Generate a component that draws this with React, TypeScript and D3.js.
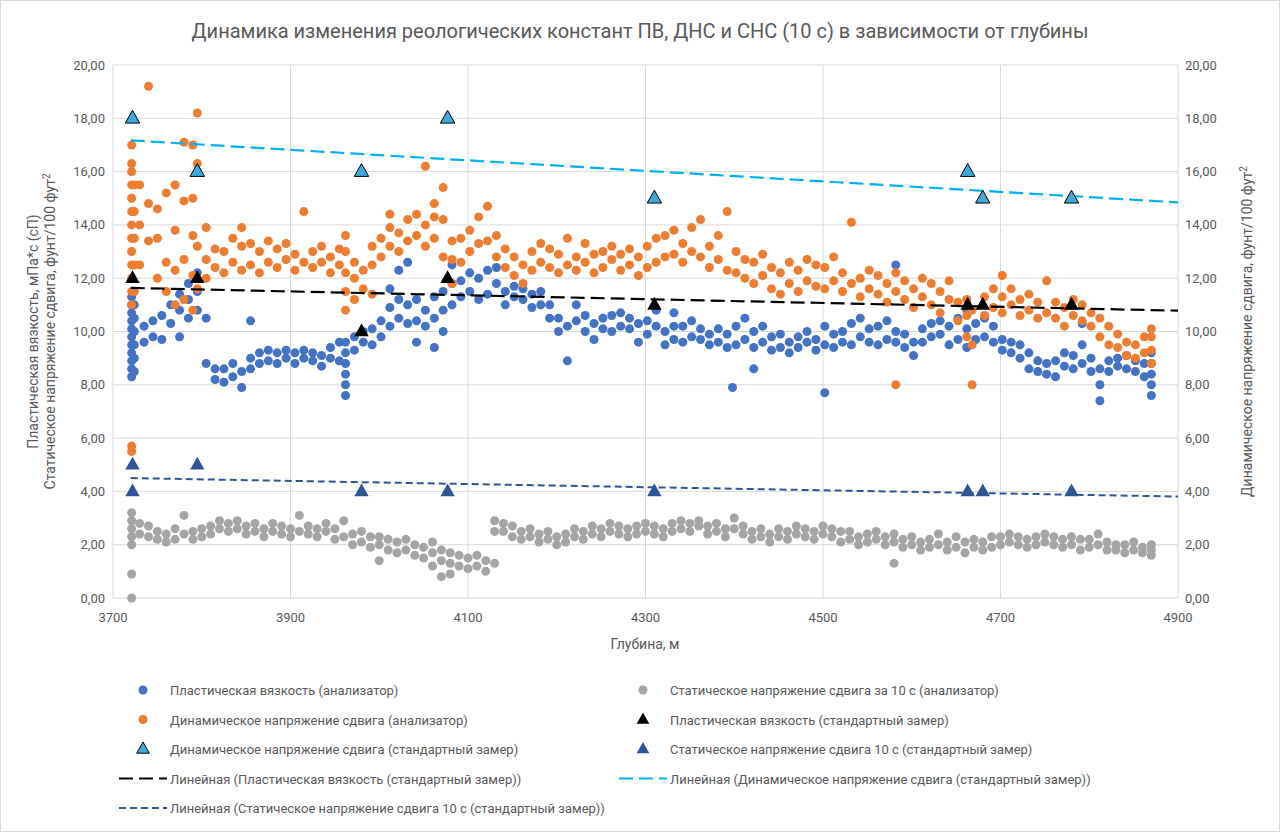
import React from 'react';
import * as d3 from 'd3';

// Analyzer series: [depth, ...values]
const pvAnalyzer: number[][] = [
  [3721, 8.3, 8.6, 8.9, 9.2, 9.5, 9.8, 10.1, 10.4, 10.7, 11, 11.3], [3724, 8.5, 9, 9.5, 10, 10.5, 11],
  [3735, 9.6, 10.2], [3745, 9.8, 10.4], [3755, 9.7, 10.6], [3765, 10.3, 11], [3775, 9.8, 10.8, 11.4],
  [3785, 10.5, 11.2, 11.8], [3795, 10.8, 11.5, 12.2], [3805, 8.8, 10.5], [3815, 8.2, 8.6], [3825, 8.1, 8.6],
  [3835, 8.3, 8.8], [3845, 7.9, 8.5], [3855, 8.6, 9, 10.4], [3865, 8.8, 9.2], [3875, 8.9, 9.3], [3885, 8.8, 9.2],
  [3895, 9, 9.3], [3905, 8.8, 9.2], [3915, 9, 9.3], [3925, 8.9, 9.2], [3935, 8.7, 9.1], [3945, 9, 9.4],
  [3955, 8.9, 9.6], [3962, 7.6, 8, 8.4, 8.8, 9.2, 9.6], [3972, 9.3, 9.8], [3982, 9.6, 10], [3992, 9.5, 10.1],
  [4002, 9.8, 10.4], [4012, 10.2, 10.9, 11.6], [4022, 10.5, 11.2, 12.3], [4032, 10.3, 11, 12.6],
  [4042, 9.6, 10.4, 11.2], [4052, 10.2, 10.8], [4062, 9.4, 10.5, 11.3], [4072, 10, 10.8, 11.5],
  [4082, 11, 11.8, 12.5], [4092, 11.3, 11.9], [4102, 11.5, 12.2], [4112, 11.2, 12], [4122, 11.4, 12.3],
  [4132, 11.8, 12.4], [4142, 11, 11.5], [4152, 11.3, 11.7], [4162, 11.2, 11.6], [4172, 10.9, 11.4],
  [4182, 11, 11.5], [4192, 10.5, 11], [4202, 10, 10.5], [4212, 8.9, 10.2], [4222, 10.4, 11], [4232, 10, 10.6],
  [4242, 9.7, 10.3], [4252, 10.1, 10.5], [4262, 10, 10.6], [4272, 10.2, 10.7], [4282, 10.1, 10.5],
  [4292, 9.6, 10.3], [4302, 9.9, 10.4], [4312, 10.2, 10.8], [4322, 9.5, 10], [4332, 9.7, 10.2, 10.7],
  [4342, 9.6, 10.2], [4352, 9.8, 10.4], [4362, 9.7, 10.1], [4372, 9.5, 9.9], [4382, 9.6, 10.1],
  [4392, 9.4, 9.9], [4398, 7.9], [4402, 9.5, 10.2], [4412, 9.7, 10.5], [4422, 8.6, 9.4, 10], [4432, 9.6, 10.2],
  [4442, 9.3, 9.8], [4452, 9.4, 9.9], [4462, 9.2, 9.6], [4472, 9.4, 9.8], [4482, 9.6, 10], [4492, 9.3, 9.7],
  [4502, 7.7, 9.5, 10.2], [4512, 9.4, 9.9], [4522, 9.6, 10], [4532, 9.5, 10.3], [4542, 9.8, 10.5],
  [4552, 9.6, 10.1], [4562, 9.5, 10.2], [4572, 9.7, 10.4], [4582, 9.6, 10, 12.5], [4592, 9.4, 9.9],
  [4602, 9.1, 9.6], [4612, 9.6, 10.1], [4622, 9.8, 10.3], [4632, 9.9, 10.4], [4642, 9.5, 10.2],
  [4652, 9.7, 10.5], [4662, 9.4, 10.1, 10.8], [4672, 9.7, 10.3], [4682, 9.8, 10.5], [4692, 9.6, 10.2],
  [4702, 9.3, 9.7], [4712, 9.2, 9.6], [4722, 9, 9.5], [4732, 8.6, 9.2], [4742, 8.5, 8.9], [4752, 8.4, 8.8],
  [4762, 8.3, 8.9], [4772, 8.7, 9.2], [4782, 8.6, 9.1], [4792, 8.8, 9.5, 10.3], [4802, 8.5, 9],
  [4812, 7.4, 8, 8.6], [4822, 8.5, 8.9], [4832, 8.7, 9], [4842, 8.6, 9.1], [4852, 8.5, 8.9], [4862, 8.3, 8.8],
  [4870, 7.6, 8, 8.4, 8.8, 9.2],
];

const ypAnalyzer: number[][] = [
  [3721, 5.5, 5.7, 11, 11.5, 12, 12.5, 13, 13.5, 14, 14.5, 15, 15.5, 16, 16.3, 17], [3724, 11.5, 12.5, 13.5, 14.5, 15.5],
  [3730, 12.5, 14, 15.5], [3740, 13.4, 14.8, 19.2], [3750, 12, 13.5, 14.6], [3760, 11.5, 12.6, 15.2],
  [3770, 11, 12.3, 13.8, 15.5], [3780, 11.2, 12.7, 14.9, 17.1], [3790, 10.8, 12.1, 13.6, 15, 17],
  [3795, 11.6, 13.2, 16.3, 18.2], [3805, 12, 12.7, 13.9], [3815, 12.4, 13.1], [3825, 12.2, 13],
  [3835, 12.6, 13.5], [3845, 12.3, 13.2, 13.9], [3855, 12.5, 13.3], [3865, 12.2, 13], [3875, 12.6, 13.4],
  [3885, 12.4, 13.1], [3895, 12.7, 13.3], [3905, 12.3, 12.9], [3915, 12.6, 14.5], [3925, 12.4, 13],
  [3935, 12.6, 13.2], [3945, 12.2, 12.8], [3955, 12.5, 13.1], [3962, 10.8, 11.5, 12.2, 13, 13.6],
  [3972, 11.2, 12, 12.6], [3982, 11.6, 12.3], [3992, 11.4, 12.5, 13.2], [4002, 12.8, 13.5],
  [4012, 13.2, 13.9, 14.4], [4022, 13, 13.7], [4032, 13.4, 14.2], [4042, 13.6, 14.4], [4052, 13.2, 14, 16.2],
  [4062, 13.5, 14.3, 14.8], [4072, 12.8, 14.2, 15.4], [4082, 11.8, 12.7, 13.4], [4092, 12.6, 13.5],
  [4102, 13, 13.8], [4112, 13.3, 14.3], [4122, 13.4, 14.7], [4132, 12.8, 13.6], [4142, 12.4, 13.1],
  [4152, 12.1, 12.8], [4162, 11.8, 12.5], [4172, 12.3, 13], [4182, 12.6, 13.3], [4192, 12.4, 13.1],
  [4202, 12.2, 12.9], [4212, 12.5, 13.5], [4222, 12.3, 12.8], [4232, 12.6, 13.3], [4242, 12.2, 12.9],
  [4252, 12.4, 13], [4262, 12.7, 13.2], [4272, 12.3, 12.9], [4282, 12.5, 13.1], [4292, 12.1, 12.8],
  [4302, 12.4, 13.2], [4312, 12.6, 13.5], [4322, 12.8, 13.6], [4332, 12.9, 13.8], [4342, 12.6, 13.3],
  [4352, 13, 13.9], [4362, 12.8, 14.2], [4372, 12.4, 13.2], [4382, 12.7, 13.6], [4392, 12.3, 14.5],
  [4402, 12.2, 13], [4412, 12, 12.7], [4422, 11.8, 12.6], [4432, 12.1, 12.9], [4442, 11.6, 12.4],
  [4452, 11.4, 12.2], [4462, 11.8, 12.6], [4472, 11.5, 12.3], [4482, 11.9, 12.7], [4492, 11.7, 12.5],
  [4502, 11.6, 12.4], [4512, 11.9, 12.8], [4522, 11.5, 12.2], [4532, 11.8, 14.1], [4542, 11.3, 12],
  [4552, 11.6, 12.3], [4562, 11.4, 12.1], [4572, 11.1, 11.8], [4582, 8, 11.5, 12.2], [4592, 11.2, 11.9],
  [4602, 10.9, 11.6], [4612, 11.3, 12], [4622, 11, 11.8], [4632, 10.7, 11.5], [4642, 11.2, 11.9],
  [4652, 10.4, 11.1], [4662, 9.8, 10.6, 11.2], [4668, 8, 9.5, 10.8], [4682, 10.6, 11.3], [4692, 10.9, 11.6],
  [4702, 10.7, 11.3, 12.1], [4712, 11, 11.6], [4722, 10.6, 11.2], [4732, 10.8, 11.4], [4742, 10.5, 11.1],
  [4752, 10.7, 11.9], [4762, 10.5, 11.1], [4772, 10.2, 10.9], [4782, 10.6, 11.2], [4792, 10.4, 11],
  [4802, 10.2, 10.7], [4812, 9.8, 10.5], [4822, 9.5, 10.2], [4832, 9.4, 9.9], [4842, 9.1, 9.6],
  [4852, 9, 9.5], [4862, 9.2, 9.8], [4870, 8.8, 9.3, 9.8, 10.1],
];

const gelAnalyzer: number[][] = [
  [3721, 0, 0.9, 2, 2.3, 2.6, 2.9, 3.2], [3730, 2.4, 2.8], [3740, 2.3, 2.7], [3750, 2.2, 2.5], [3760, 2.1, 2.4],
  [3770, 2.2, 2.6], [3780, 2.4, 3.1], [3790, 2.2, 2.5], [3800, 2.3, 2.6], [3810, 2.4, 2.7], [3820, 2.6, 2.9],
  [3830, 2.5, 2.8], [3840, 2.6, 2.9], [3850, 2.4, 2.7], [3860, 2.5, 2.8], [3870, 2.3, 2.6], [3880, 2.5, 2.8],
  [3890, 2.4, 2.7], [3900, 2.3, 2.6], [3910, 2.5, 3.1], [3920, 2.4, 2.7], [3930, 2.3, 2.6], [3940, 2.5, 2.8],
  [3950, 2.2, 2.6], [3960, 2.3, 2.9], [3970, 2, 2.4], [3980, 2.1, 2.5], [3990, 1.9, 2.3], [4000, 1.4, 2, 2.3],
  [4010, 1.8, 2.2], [4020, 1.7, 2.1], [4030, 1.8, 2.2], [4040, 1.6, 2], [4050, 1.5, 1.9], [4060, 1.2, 1.7, 2.1],
  [4070, 0.8, 1.4, 1.8], [4080, 0.9, 1.3, 1.7], [4090, 1.2, 1.6], [4100, 1.1, 1.5], [4110, 1.2, 1.6],
  [4120, 1, 1.4], [4130, 1.3, 2.5, 2.9], [4140, 2.5, 2.8], [4150, 2.3, 2.7], [4160, 2.2, 2.5], [4170, 2.3, 2.6],
  [4180, 2.1, 2.4], [4190, 2.2, 2.5], [4200, 2, 2.3], [4210, 2.1, 2.4], [4220, 2.3, 2.6], [4230, 2.2, 2.5],
  [4240, 2.4, 2.7], [4250, 2.3, 2.6], [4260, 2.5, 2.8], [4270, 2.4, 2.7], [4280, 2.3, 2.6], [4290, 2.4, 2.7],
  [4300, 2.5, 2.8], [4310, 2.4, 2.7], [4320, 2.3, 2.6], [4330, 2.5, 2.8], [4340, 2.6, 2.9], [4350, 2.5, 2.8],
  [4360, 2.7, 2.9], [4370, 2.4, 2.7], [4380, 2.5, 2.8], [4390, 2.3, 2.6], [4400, 2.6, 3], [4410, 2.4, 2.7],
  [4420, 2.2, 2.5], [4430, 2.3, 2.6], [4440, 2.1, 2.4], [4450, 2.3, 2.6], [4460, 2.2, 2.5], [4470, 2.4, 2.7],
  [4480, 2.3, 2.6], [4490, 2.2, 2.5], [4500, 2.4, 2.7], [4510, 2.3, 2.6], [4520, 2.1, 2.5], [4530, 2.2, 2.5],
  [4540, 2, 2.3], [4550, 2.1, 2.4], [4560, 2.2, 2.5], [4570, 2, 2.3], [4580, 1.3, 2.1, 2.4], [4590, 1.9, 2.2],
  [4600, 2, 2.3], [4610, 1.8, 2.1], [4620, 1.9, 2.2], [4630, 2, 2.4], [4640, 1.8, 2.1], [4650, 1.9, 2.3],
  [4660, 1.7, 2.1], [4670, 1.9, 2.2], [4680, 1.8, 2.1], [4690, 1.9, 2.3], [4700, 2, 2.3], [4710, 2.1, 2.4],
  [4720, 2, 2.3], [4730, 1.9, 2.2], [4740, 2, 2.3], [4750, 2.1, 2.4], [4760, 2, 2.3], [4770, 1.9, 2.2],
  [4780, 2, 2.3], [4790, 1.8, 2.2], [4800, 1.9, 2.2], [4810, 2, 2.4], [4820, 1.8, 2.1], [4830, 1.8, 2],
  [4840, 1.7, 2], [4850, 1.8, 2.1], [4860, 1.7, 1.9], [4870, 1.6, 1.8, 2],
];

// Standard measurements
const pvStd: [number, number][] = [[3722, 12], [3795, 12], [3980, 10], [4077, 12], [4310, 11], [4663, 11], [4680, 11], [4780, 11]];
const ypStd: [number, number][] = [[3722, 18], [3795, 16], [3980, 16], [4077, 18], [4310, 15], [4663, 16], [4680, 15], [4780, 15]];
const gelStd: [number, number][] = [[3722, 5], [3722, 4], [3795, 5], [3980, 4], [4077, 4], [4310, 4], [4663, 4], [4680, 4], [4780, 4]];

const xTicks = [3700, 3900, 4100, 4300, 4500, 4700, 4900];
const yTicks = d3.range(0, 21, 2);

const C = { blue: '#4472c4', orange: '#ed7d31', grey: '#a5a5a5', cyan: '#00b0f0', cyanTri: '#3fa9dc', dark: '#2f5597', text: '#595959' };
const FONT = 'Roboto, "Open Sans", "DejaVu Sans", sans-serif';

const flat = (rows: number[][]) => rows.flatMap(r => r.slice(1).map(v => [r[0], v] as [number, number]));

function fit(pts: [number, number][]) {
  const mx = d3.mean(pts, p => p[0])!, my = d3.mean(pts, p => p[1])!;
  const b = d3.sum(pts, p => (p[0] - mx) * (p[1] - my)) / d3.sum(pts, p => (p[0] - mx) ** 2);
  return (x: number) => my + b * (x - mx);
}

const fmt = (v: number) => v.toFixed(2).replace('.', ',');

function Tri({ x, y, fill, stroke, s = 8 }: { x: number; y: number; fill: string; stroke?: string; s?: number }) {
  return <path d={`M${x},${y - s}L${x + s * 0.9},${y + s * 0.6}L${x - s * 0.9},${y + s * 0.6}Z`} fill={fill} stroke={stroke || 'none'} strokeWidth={1} />;
}

export default function App() {
  const L = 113, R = 1178, T = 65, B = 598;
  const x = d3.scaleLinear().domain([3700, 4900]).range([L, R]);
  const y = d3.scaleLinear().domain([0, 20]).range([B, T]);
  const trends = [
    { pts: pvStd, color: '#000', dash: '14,6', w: 2.2 },
    { pts: ypStd, color: C.cyan, dash: '14,6', w: 2.2 },
    { pts: gelStd, color: C.dark, dash: '7,4', w: 2 },
  ];
  const legend: [number, number, string, string][] = [
    [0, 0, 'blue', 'Пластическая вязкость (анализатор)'],
    [1, 0, 'grey', 'Статическое напряжение сдвига за 10 с (анализатор)'],
    [0, 1, 'orange', 'Динамическое напряжение сдвига (анализатор)'],
    [1, 1, 'pvTri', 'Пластическая вязкость (стандартный замер)'],
    [0, 2, 'ypTri', 'Динамическое напряжение сдвига (стандартный замер)'],
    [1, 2, 'gelTri', 'Статическое напряжение сдвига 10 с (стандартный замер)'],
    [0, 3, 'pvLine', 'Линейная (Пластическая вязкость (стандартный замер))'],
    [1, 3, 'ypLine', 'Линейная (Динамическое напряжение сдвига (стандартный замер))'],
    [0, 4, 'gelLine', 'Линейная (Статическое напряжение сдвига 10 с (стандартный замер))'],
  ];
  const legSym = (k: string, cx: number, cy: number) => {
    switch (k) {
      case 'blue': return <circle cx={cx} cy={cy} r={4.5} fill={C.blue} />;
      case 'grey': return <circle cx={cx} cy={cy} r={4.5} fill={C.grey} />;
      case 'orange': return <circle cx={cx} cy={cy} r={4.5} fill={C.orange} />;
      case 'pvTri': return <Tri x={cx} y={cy} fill="#000" s={7} />;
      case 'ypTri': return <Tri x={cx} y={cy} fill={C.cyanTri} stroke="#000" s={7} />;
      case 'gelTri': return <Tri x={cx} y={cy} fill={C.dark} s={7} />;
      case 'pvLine': return <line x1={cx - 24} x2={cx + 24} y1={cy} y2={cy} stroke="#000" strokeWidth={2.2} strokeDasharray="14,6" />;
      case 'ypLine': return <line x1={cx - 24} x2={cx + 24} y1={cy} y2={cy} stroke={C.cyan} strokeWidth={2.2} strokeDasharray="14,6" />;
      default: return <line x1={cx - 24} x2={cx + 24} y1={cy} y2={cy} stroke={C.dark} strokeWidth={2} strokeDasharray="7,4" />;
    }
  };
  return (
    <svg width={1280} height={832} style={{ position: 'absolute', left: 0, top: 0, background: '#fff' }} fontFamily={FONT}>
      <rect x={0.5} y={0.5} width={1279} height={831} fill="#fff" stroke="#d9d9d9" />
      <text x={640} y={38} textAnchor="middle" fontSize={20} fill={C.text}>Динамика изменения реологических констант  ПВ, ДНС и СНС (10 с) в зависимости от глубины</text>
      {yTicks.map(t => <line key={'h' + t} x1={L} x2={R} y1={y(t)} y2={y(t)} stroke="#d9d9d9" />)}
      {xTicks.map(t => <line key={'v' + t} x1={x(t)} x2={x(t)} y1={T} y2={B} stroke="#d9d9d9" />)}
      {yTicks.map(t => (
        <g key={'yl' + t} fontSize={13} fill={C.text}>
          <text x={L - 8} y={y(t) + 4.5} textAnchor="end">{fmt(t)}</text>
          <text x={R + 7} y={y(t) + 4.5}>{fmt(t)}</text>
        </g>
      ))}
      {xTicks.map(t => <text key={'xl' + t} x={x(t)} y={B + 24} textAnchor="middle" fontSize={13} fill={C.text}>{t}</text>)}
      <text x={645} y={649} textAnchor="middle" fontSize={14} fill={C.text}>Глубина, м</text>
      <text transform={`translate(38,${(T + B) / 2}) rotate(-90)`} textAnchor="middle" fontSize={14} fill={C.text}>Пластическая вязкость,  мПа*с (сП)</text>
      <text transform={`translate(55,${(T + B) / 2}) rotate(-90)`} textAnchor="middle" fontSize={14} fill={C.text}>Статическое напряжение сдвига, фунт/100 фут<tspan dy={-5} fontSize={10}>2</tspan></text>
      <text transform={`translate(1252,${(T + B) / 2}) rotate(-90)`} textAnchor="middle" fontSize={14} fill={C.text}>Динамическое напряжение сдвига, фунт/100 фут<tspan dy={-5} fontSize={10}>2</tspan></text>

      {flat(gelAnalyzer).map((p, i) => <circle key={'g' + i} cx={x(p[0])} cy={y(p[1])} r={4.5} fill={C.grey} />)}
      {flat(pvAnalyzer).map((p, i) => <circle key={'b' + i} cx={x(p[0])} cy={y(p[1])} r={4.5} fill={C.blue} />)}
      {flat(ypAnalyzer).map((p, i) => <circle key={'o' + i} cx={x(p[0])} cy={y(p[1])} r={4.5} fill={C.orange} />)}

      {trends.map((t, i) => {
        const f = fit(t.pts);
        return <line key={'t' + i} x1={x(3720)} x2={x(4900)} y1={y(f(3720))} y2={y(f(4900))} stroke={t.color} strokeWidth={t.w} strokeDasharray={t.dash} />;
      })}

      {pvStd.map((p, i) => <Tri key={'pt' + i} x={x(p[0])} y={y(p[1])} fill="#000" />)}
      {ypStd.map((p, i) => <Tri key={'yt' + i} x={x(p[0])} y={y(p[1])} fill={C.cyanTri} stroke="#000" />)}
      {gelStd.map((p, i) => <Tri key={'gt' + i} x={x(p[0])} y={y(p[1])} fill={C.dark} />)}

      {legend.map(([col, row, k, label]) => {
        const cx = col === 0 ? 143 : 643;
        const cy = 690 + row * 29.5;
        return (
          <g key={label}>
            {legSym(k, cx, cy)}
            <text x={cx + 27} y={cy + 5} fontSize={13} fill={C.text}>{label}</text>
          </g>
        );
      })}
    </svg>
  );
}
